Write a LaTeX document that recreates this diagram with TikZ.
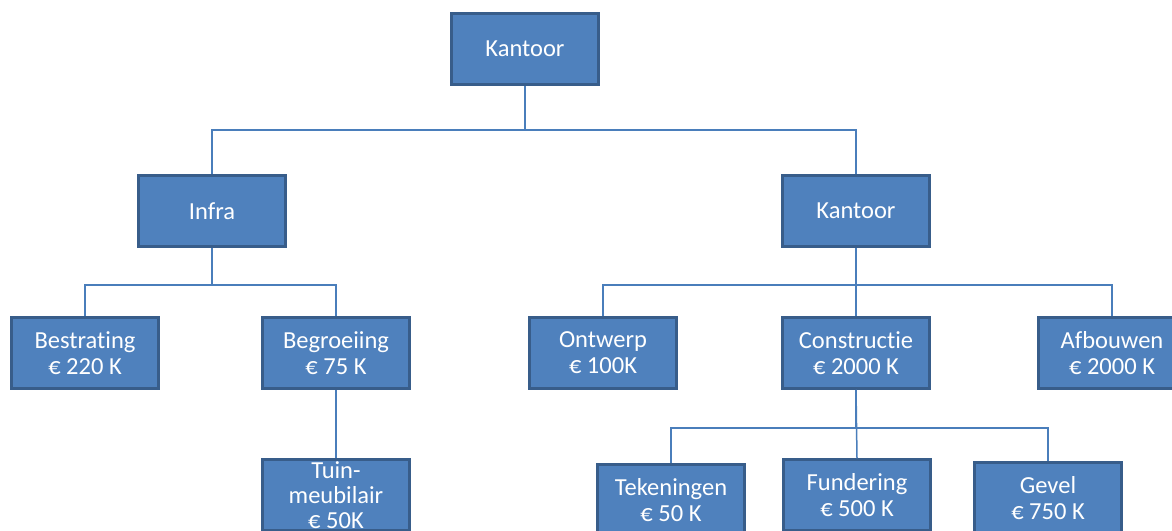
\documentclass[tikz,border=0pt]{standalone}
\usepackage{fontspec}
\setmainfont{Carlito}[Ligatures=NoCommon]
\usetikzlibrary{positioning}
\definecolor{boxblue}{HTML}{4F81BD}
\definecolor{boxedge}{HTML}{385D8A}
\definecolor{linkblue}{HTML}{4A7EBB}

\begin{document}
\begin{tikzpicture}[
    x=1pt, y=-1pt,
    font=\fontsize{24.5}{26}\selectfont
]
\tikzset{
    mynode/.style = {rectangle, draw=boxedge, line width=2.5pt, fill=boxblue, text=white,
                     align=center, minimum width=147pt, minimum height=71pt, inner sep=2pt},
    edgen/.style = {draw=linkblue, line width=1.5pt}
}
\useasboundingbox (0,0) rectangle (1172,530);
% top
\node[mynode] at (525,49) (top) {Kantoor};
% second row
\node[mynode] at (212,211) (infra) {Infra};
\node[mynode] at (856,211) (kantoor) {Kantoor};
% third row
\node[mynode] at (85,353) (bestrating) {Bestrating\\€ 220 K};
\node[mynode] at (336,353) (begroeiing) {Begroeiing\\€ 75 K};
\node[mynode] at (603,353) (ontwerp) {Ontwerp\\€ 100K};
\node[mynode] at (856,353) (constructie) {Constructie\\€ 2000 K};
\node[mynode] at (1112,353) (afbouwen) {Afbouwen\\€ 2000 K};
% bottom row
\node[mynode, inner ysep=0pt, font=\fontsize{24.5}{25}\selectfont] at (336,495) (tuin) {Tuin-\\meubilair\\€ 50K};
\node[mynode] at (671,500) (tekeningen) {Tekeningen\\€ 50 K};
\node[mynode] at (857,495) (fundering) {Fundering\\€ 500 K};
\node[mynode] at (1048,498) (gevel) {Gevel\\€ 750 K};
% connectors
\draw[edgen] (top.south) -- ++(0,44) -| (infra.north);
\draw[edgen] (top.south) -- ++(0,44) -| (kantoor.north);
\draw[edgen] (infra.south) -- ++(0,37) -| (bestrating.north);
\draw[edgen] (infra.south) -- ++(0,37) -| (begroeiing.north);
\draw[edgen] (begroeiing.south) -- (tuin.north);
\draw[edgen] (kantoor.south) -- ++(0,37) -| (ontwerp.north);
\draw[edgen] (kantoor.south) -- (constructie.north);
\draw[edgen] (kantoor.south) -- ++(0,37) -| (afbouwen.north);
\draw[edgen] (constructie.south) -- ++(0,38) -| (tekeningen.north);
\draw[edgen] (constructie.south) -- (fundering.north);
\draw[edgen] (constructie.south) -- ++(0,38) -| (gevel.north);
\end{tikzpicture}
\end{document}
